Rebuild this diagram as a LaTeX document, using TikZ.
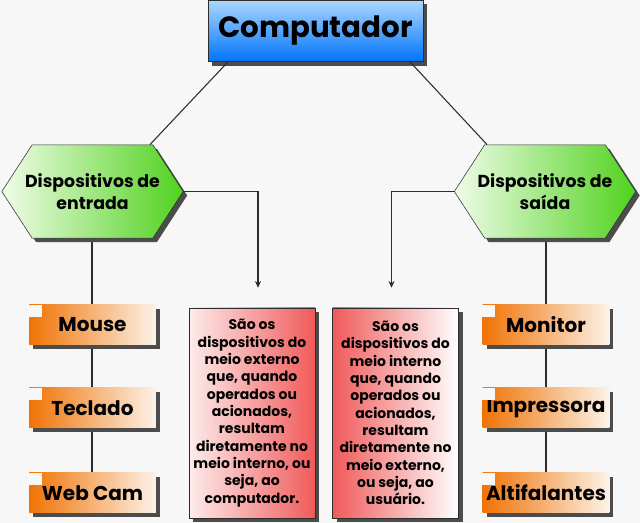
\documentclass[tikz,border=0pt]{standalone}
\usepackage{fontspec}
\setmainfont{Poppins}
\usetikzlibrary{arrows.meta,calc,shapes.symbols,shadows}
\definecolor{Fundo}{RGB}{247,247,247}
\definecolor{Linha}{RGB}{45,45,45}
\definecolor{AzulClaro}{RGB}{170,215,255}
\definecolor{AzulEsc}{RGB}{0,115,250}
\definecolor{VerdeClaro}{RGB}{240,252,232}
\definecolor{VerdeEsc}{RGB}{80,210,30}
\definecolor{LaranjaEsc}{RGB}{240,115,5}
\definecolor{LaranjaClaro}{RGB}{252,242,232}
\definecolor{Vermelho}{RGB}{240,90,90}
\tikzset{
  sombra/.style={drop shadow={shadow xshift=3pt, shadow yshift=-3pt, fill=black!70, opacity=1}},
  titulo/.style={draw=Linha, top color=AzulClaro, bottom color=AzulEsc, sombra,
                 minimum width=161pt, minimum height=46pt, font=\bfseries\fontsize{22}{26}\selectfont},
  hexagono/.style={signal, signal to=west and east, signal pointer angle=114, draw=Linha,
                 left color=VerdeClaro, right color=VerdeEsc, sombra, inner ysep=0pt, inner xsep=-6pt,
                 minimum width=136pt, minimum height=70pt, align=center,
                 font=\bfseries\fontsize{13}{17}\selectfont},
  item/.style={left color=LaranjaEsc, right color=LaranjaClaro, sombra,
                 minimum width=95pt, minimum height=30pt, inner sep=0pt,
                 font=\bfseries\fontsize{15}{18}\selectfont},
  nota/.style={draw=Linha, sombra, minimum width=94.5pt, minimum height=157.5pt,
                 align=center, inner sep=0pt,
                 font=\bfseries\fontsize{10.5}{13}\selectfont},
  ligacao/.style={draw=Linha, line width=0.8pt},
  seta/.style={ligacao, -{Stealth[length=5pt,width=4.5pt]}},
}
\begin{document}
\begin{tikzpicture}[x=0.75pt, y=-0.75pt]
  \fill[Fundo] (0,0) rectangle (640,523);
  \useasboundingbox (0,0) rectangle (640,523);

  % Linhas verticais (atrás das caixas)
  \coordinate (colE) at (92,238);
  \coordinate (colS) at (546,238);
  \draw[ligacao] (colE) -- (92,493);
  \draw[ligacao] (colS) -- (546,493);

  % Raiz e categorias
  \node[titulo] (comp) at (315.5,31) {Computador};
  \node[hexagono] (entrada) at (92.5,191.5) {Dispositivos de\\entrada};
  \node[hexagono] (saida) at (545,191.5) {Dispositivos de\\saída};

  % Exemplos de cada categoria (com recorte no canto)
  \foreach \nome/\x/\y/\txt in {mouse/92.5/325/Mouse, teclado/92.5/408/Teclado, webcam/92.5/493/Web Cam,
      monitor/546/325/Monitor, impressora/546/408/Impressora, alti/546/493/Altifalantes}{
    \node[item] (\nome) at (\x,\y) {\txt};
    \fill[Fundo] (\nome.north west) rectangle ++(13,12);
  }

  % Definições
  \node[nota, left color=Vermelho!12, right color=Vermelho] (defE) at (252,413)
    {São os\\dispositivos do\\meio externo\\que, quando\\operados ou\\acionados,\\resultam\\diretamente no\\meio interno, ou\\seja, ao\\computador.};
  \node[nota, left color=Vermelho, right color=white] (defS) at (395.5,413)
    {São os\\dispositivos do\\meio interno\\que, quando\\operados ou\\acionados,\\resultam\\diretamente no\\meio externo,\\ou seja, ao\\usuário.};

  \draw[ligacao] ($(comp.south west)+(20,0)$) -- ($(entrada.north)+(57.5,0)$);
  \draw[ligacao] ($(comp.south east)+(-13,0)$) -- ($(saida.north)+(-58,0)$);
  \draw[seta] (entrada.east) -| ($(defE.north)+(6,-20)$);
  \draw[seta] (saida.west) -| ($(defS.north)+(-4,-20)$);
\end{tikzpicture}
\end{document}
